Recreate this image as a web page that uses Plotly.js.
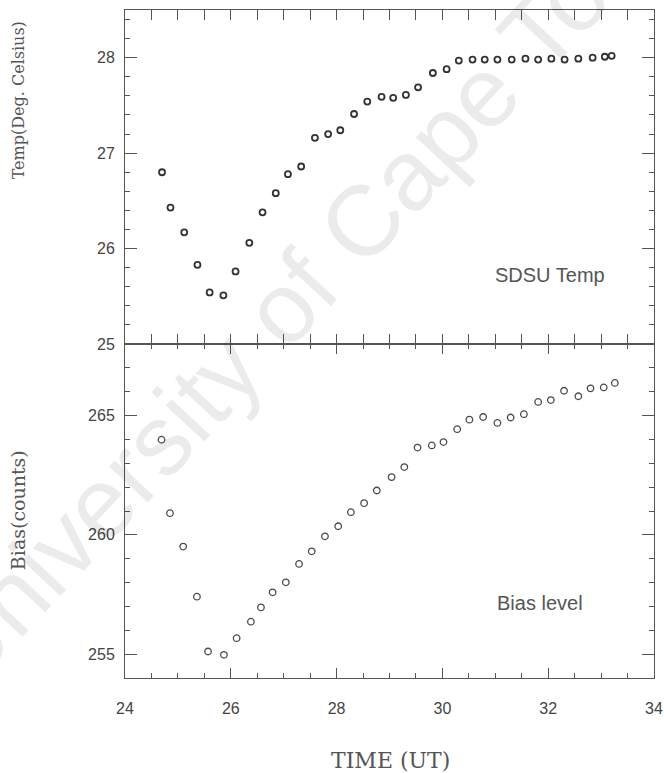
<!DOCTYPE html>
<html>
<head>
<meta charset="utf-8">
<script src="https://cdn.plot.ly/plotly-3.0.1.min.js"></script>
<style>
  html, body { margin: 0; padding: 0; background: #ffffff; }
  #chart { width: 664px; height: 773px; }
</style>
</head>
<body>
<div id="chart"></div>
<script>
// Controller temperature during the run (UT hours, deg C)
const tempTime = [24.70, 24.86, 25.12, 25.37, 25.60, 25.86, 26.09, 26.35, 26.60, 26.85,
                  27.08, 27.33, 27.59, 27.84, 28.07, 28.33, 28.58, 28.85, 29.07, 29.31,
                  29.54, 29.82, 30.08, 30.31, 30.57, 30.80, 31.04, 31.31, 31.57, 31.81,
                  32.06, 32.31, 32.57, 32.84, 33.07, 33.20];
const tempValues = [26.80, 26.43, 26.17, 25.83, 25.54, 25.51, 25.76, 26.06, 26.38, 26.58,
                    26.78, 26.86, 27.16, 27.20, 27.24, 27.41, 27.54, 27.59, 27.58, 27.61,
                    27.69, 27.84, 27.88, 27.97, 27.98, 27.98, 27.98, 27.98, 27.99, 27.98,
                    27.99, 27.98, 27.99, 28.00, 28.01, 28.02];

// CCD bias level over the same interval (counts)
const biasTime = [24.69, 24.85, 25.10, 25.36, 25.57, 25.87, 26.11, 26.38, 26.57, 26.79,
                  27.04, 27.29, 27.53, 27.78, 28.03, 28.27, 28.52, 28.76, 29.04, 29.28,
                  29.53, 29.80, 30.02, 30.28, 30.51, 30.77, 31.04, 31.29, 31.54, 31.81,
                  32.05, 32.30, 32.57, 32.80, 33.05, 33.26];
const biasValues = [263.99, 260.91, 259.51, 257.41, 255.11, 254.97, 255.67, 256.36, 256.96, 257.59,
                    258.01, 258.78, 259.31, 259.94, 260.36, 260.95, 261.33, 261.86, 262.42, 262.84,
                    263.66, 263.75, 263.89, 264.43, 264.83, 264.94, 264.69, 264.92, 265.06, 265.57,
                    265.65, 266.04, 265.81, 266.14, 266.18, 266.37];

// Axis ticks
const timeTicks = [24, 26, 28, 30, 32, 34];
const tempTicks = [25, 26, 27, 28];
const biasTicks = [255, 260, 265];

// Panel labels and axis titles
const tempLabel = 'SDSU Temp';
const biasLabel = 'Bias level';
const tempTitle = 'Temp(Deg. Celsius)';
const biasTitle = 'Bias(counts)';
const timeTitle = 'TIME (UT)';
const stampText = 'University of Cape Town';

const axisColor = '#555555';
const sans = 'Liberation Sans, Arial, sans-serif';
const serif = 'DejaVu Serif, Liberation Serif, serif';
const tickFont = { family: sans, size: 16, color: '#444444' };

const traces = [
  {
    x: tempTime, y: tempValues, xaxis: 'x', yaxis: 'y',
    type: 'scatter', mode: 'markers',
    marker: { symbol: 'circle-open', size: 6, color: '#333333', line: { width: 1.8, color: '#333333' } },
    hoverinfo: 'x+y'
  },
  {
    x: biasTime, y: biasValues, xaxis: 'x', yaxis: 'y2',
    type: 'scatter', mode: 'markers',
    marker: { symbol: 'circle-open', size: 6.5, color: '#4a4a4a', line: { width: 1.3, color: '#4a4a4a' } },
    hoverinfo: 'x+y'
  }
];

const baseAxis = {
  showline: true, linecolor: axisColor, linewidth: 1,
  mirror: 'allticks', ticks: 'inside', tickcolor: axisColor, tickwidth: 1,
  showgrid: false, zeroline: false, tickfont: tickFont
};

// Text placed in paper coordinates, always centred on the given point
function label(text, x, y, font, angle) {
  return { text: text, xref: 'paper', yref: 'paper', x: x, y: y,
           xanchor: 'center', yanchor: 'middle', showarrow: false,
           textangle: angle || 0, font: font };
}

const layout = {
  width: 664, height: 773,
  margin: { l: 125, r: 10, t: 10, b: 95 },
  paper_bgcolor: '#ffffff', plot_bgcolor: '#ffffff',
  showlegend: false,
  xaxis: Object.assign({}, baseAxis, {
    anchor: 'y2', range: [24, 34], tickmode: 'array', tickvals: timeTicks,
    ticklen: 10, ticklabelstandoff: 16,
    minor: { dtick: 0.5, ticklen: 5, ticks: 'inside', tickcolor: axisColor, showgrid: false }
  }),
  yaxis: Object.assign({}, baseAxis, {
    domain: [0.5, 1], anchor: 'x', range: [25, 28.5],
    tickmode: 'array', tickvals: tempTicks, ticklen: 12, ticklabelstandoff: 6,
    minor: { dtick: 0.2, ticklen: 5, ticks: 'inside', tickcolor: axisColor, showgrid: false }
  }),
  yaxis2: Object.assign({}, baseAxis, {
    domain: [0, 0.5], anchor: 'x', range: [254, 268],
    tickmode: 'array', tickvals: biasTicks, ticklen: 12, ticklabelstandoff: 6,
    minor: { dtick: 1, ticklen: 5, ticks: 'inside', tickcolor: axisColor, showgrid: false }
  }),
  annotations: [
    label(stampText, 0.35, 0.60, { family: sans, size: 100, color: 'rgba(0,0,0,0.08)' }, -47),
    label(tempLabel, 0.803, 0.603, { family: sans, size: 20, color: '#555555' }),
    label(biasLabel, 0.785, 0.112, { family: sans, size: 20, color: '#555555' }),
    label(tempTitle, -0.202, 0.865, { family: serif, size: 16, color: '#555555' }, -90),
    label(biasTitle, -0.202, 0.2515, { family: serif, size: 19, color: '#555555' }, -90),
    label(timeTitle, 0.501, -0.1228, { family: serif, size: 22, color: '#555555' })
  ]
};

Plotly.newPlot('chart', traces, layout, { displayModeBar: false, staticPlot: true });
</script>
</body>
</html>
